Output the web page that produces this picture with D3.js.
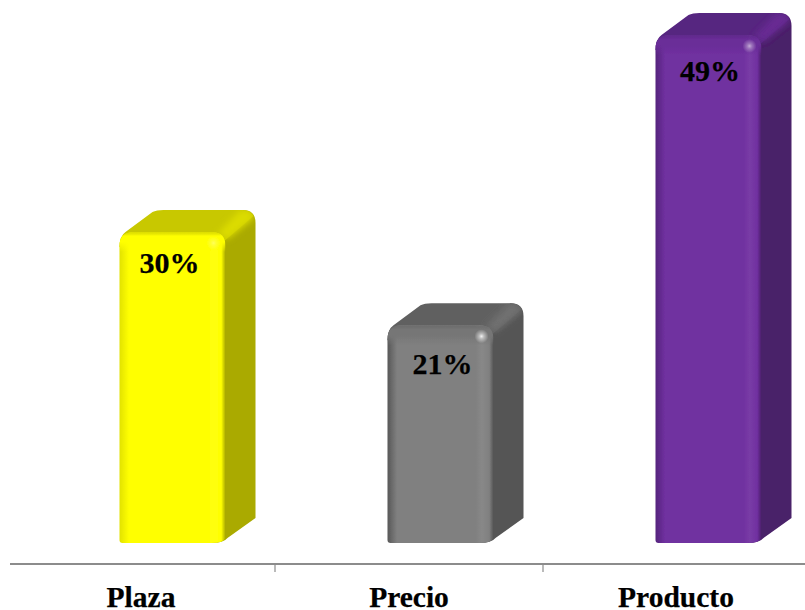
<!DOCTYPE html>
<html>
<head>
<meta charset="utf-8">
<script src="https://cdn.jsdelivr.net/npm/d3@7/dist/d3.min.js"></script>
<style>
html,body{margin:0;padding:0;background:#fff;overflow:hidden}
svg{display:block}
text{font-family:"Liberation Serif","Times New Roman",serif;font-weight:bold;fill:#000;stroke:#000;stroke-width:0.25px}
</style>
</head>
<body>
<svg id="chart" width="805" height="610"></svg>
<script>
const categories = ["Plaza", "Precio", "Producto"];
const shares = [30, 21, 49];
const frontColors = ["#ffff00", "#808080", "#7030a0"];
const topColors = ["#c8c800", "#616161", "#572580"];
const sideColors = ["#aaaa00", "#555555", "#4a2069"];
const ridgeColors = ["#dcdc00", "#707070", "#672c93"];
const leftEdgeColors = ["#e2e200", "#585858", "#55257d"];
const capColors = ["#ffff00", "#767676", "#6a2d98"];
const glintStrengths = [0.35, 0.9, 0.6];
const labelNudgeX = [1, 6, 5.5];
const labelNudgeY = [0, 8, 5];
const axisLabelNudgeX = [0, 0, -1];

const svg = d3.select("#chart");
const x = d3.scaleBand().domain(categories).range([7, 811]);
const y = d3.scaleLinear().domain([0, 49]).range([543, 35]);

const barInset = 112.5;
const barW = 106;
const depthX = 30;
const depthY = 22;
const r = 14;

const defs = svg.append("defs");
categories.forEach((c, i) => {
  const mid = frontColors[i];
  const h = defs.append("linearGradient").attr("id", "front" + i);
  [[0, leftEdgeColors[i]], [0.09, mid], [0.83, mid],
   [0.89, d3.interpolateRgb(mid, "#fff")(0.06)], [0.96, mid], [1, sideColors[i]]]
    .forEach(s => h.append("stop").attr("offset", s[0]).attr("stop-color", s[1]));

  const v = defs.append("linearGradient").attr("id", "cap" + i)
    .attr("x1", 0).attr("x2", 0).attr("y1", 0).attr("y2", 1);
  [[0, topColors[i], 0.6], [0.2, capColors[i], 1], [0.5, capColors[i], 1], [1, capColors[i], 0]]
    .forEach(s => v.append("stop").attr("offset", s[0]).attr("stop-color", s[1]).attr("stop-opacity", s[2]));

  const g = defs.append("radialGradient").attr("id", "glint" + i);
  g.append("stop").attr("offset", 0).attr("stop-color", "#fff").attr("stop-opacity", glintStrengths[i]);
  g.append("stop").attr("offset", 0.35).attr("stop-color", "#fff").attr("stop-opacity", glintStrengths[i] * 0.55);
  g.append("stop").attr("offset", 1).attr("stop-color", "#fff").attr("stop-opacity", 0);
});

const addBlur = (id, dev) => defs.append("filter").attr("id", id)
  .attr("x", "-30%").attr("y", "-30%").attr("width", "160%").attr("height", "160%")
  .append("feGaussianBlur").attr("stdDeviation", dev);
addBlur("soft", 0.5);
addBlur("wide", 3);

const bars = svg.selectAll("g.bar").data(categories).join("g").attr("class", "bar");

bars.each(function (c, i) {
  const g = d3.select(this).attr("filter", "url(#soft)");
  const x0 = x(c) + barInset;
  const x1 = x0 + barW;
  const t = y(shares[i]);
  const b = y(0);
  const backTop = t - depthY;
  const backRight = x1 + depthX;

  // Right-hand side face, running back from the front edge
  const side = d3.path();
  side.moveTo(x1 - 14, t);
  side.lineTo(backRight - 13, backTop);
  side.quadraticCurveTo(backRight, backTop, backRight, backTop + 13);
  side.lineTo(backRight, b - 25);
  side.lineTo(x1 + 2, b - 5);
  side.quadraticCurveTo(x1 - 2, b, x1 - 14, b);
  side.closePath();
  g.append("path").attr("d", side.toString()).attr("fill", sideColors[i]);

  // Top face
  const top = d3.path();
  top.moveTo(x0, t + 15);
  top.quadraticCurveTo(x0, t + 4, x0 + 6, t);
  top.lineTo(x0 + 33, backTop + 2);
  top.quadraticCurveTo(x0 + 37, backTop, x0 + 44, backTop);
  top.lineTo(backRight - 13, backTop);
  top.quadraticCurveTo(backRight - 5, backTop, backRight - 2, backTop + 6);
  top.lineTo(x1, t + 8);
  top.lineTo(x0, t + 15);
  top.closePath();
  g.append("path").attr("d", top.toString()).attr("fill", topColors[i]);

  // Silhouette of the receding faces, used to keep the bevel inside them
  const shell = d3.path();
  shell.moveTo(x0, t + 15);
  shell.lineTo(x0 + 33, backTop);
  shell.lineTo(backRight - 13, backTop);
  shell.quadraticCurveTo(backRight, backTop, backRight, backTop + 13);
  shell.lineTo(backRight, t + 30);
  shell.lineTo(x0, t + 30);
  shell.closePath();
  defs.append("clipPath").attr("id", "shell" + i).append("path").attr("d", shell.toString());

  // Lighter, soft-edged bevel where the top and side faces meet
  const ridge = d3.path();
  ridge.moveTo(x1 - 8, t + 2);
  ridge.lineTo(backRight - 16, backTop + 1);
  ridge.lineTo(backRight - 8, backTop);
  ridge.lineTo(backRight - 1, backTop + 6);
  ridge.lineTo(backRight - 4, backTop + 10);
  ridge.lineTo(x1 + 2, t + 7);
  ridge.closePath();
  g.append("g").attr("clip-path", `url(#shell${i})`)
    .append("path").attr("d", ridge.toString())
    .attr("fill", ridgeColors[i]).attr("filter", "url(#wide)");

  // Front face with rounded corners
  const front = d3.path();
  front.moveTo(x0 + 3, b);
  front.quadraticCurveTo(x0, b, x0, b - 3);
  front.lineTo(x0, t + r);
  front.quadraticCurveTo(x0, t, x0 + r, t);
  front.lineTo(x1 - r, t);
  front.quadraticCurveTo(x1, t, x1, t + r);
  front.lineTo(x1, b - 5);
  front.quadraticCurveTo(x1 - 2, b, x1 - 14, b);
  front.closePath();
  const d = front.toString();
  g.append("path").attr("d", d).attr("fill", `url(#front${i})`);

  // Soft cap along the upper edge of the front face
  const clipId = "clip" + i;
  defs.append("clipPath").attr("id", clipId).append("path").attr("d", d);
  g.append("rect")
    .attr("x", x0).attr("y", t).attr("width", barW).attr("height", 20)
    .attr("fill", `url(#cap${i})`).attr("clip-path", `url(#${clipId})`);

  // Specular glint at the front top-right corner
  g.append("circle")
    .attr("cx", x1 - 12).attr("cy", t + 11).attr("r", 7)
    .attr("fill", `url(#glint${i})`);
});

// Value labels sit inside each bar, below its top edge
svg.selectAll("text.value").data(categories).join("text")
  .attr("class", "value")
  .attr("x", (c, i) => x(c) + barInset + 49 + labelNudgeX[i])
  .attr("y", (c, i) => y(shares[i]) + 41 + labelNudgeY[i])
  .attr("text-anchor", "middle")
  .attr("font-size", 30)
  .text((c, i) => shares[i] + "%");

// Category axis
const axis = svg.append("g").attr("transform", "translate(0,564)")
  .call(d3.axisBottom(x).tickSize(0).tickPadding(0));
axis.select(".domain").remove();
axis.selectAll("text")
  .attr("y", 43)
  .attr("dy", 0)
  .attr("dx", (c, i) => axisLabelNudgeX[i])
  .attr("font-size", 29.5)
  .style("font-family", '"Liberation Serif",serif')
  .style("font-weight", "bold")
  .attr("fill", "#000");

const axisStart = 10;
axis.append("line")
  .attr("x1", axisStart).attr("x2", 805).attr("y1", 0).attr("y2", 0)
  .attr("stroke", "#8c8c8c").attr("stroke-width", 2);
axis.selectAll("line.sep").data(categories.slice(1)).join("line")
  .attr("class", "sep")
  .attr("x1", c => x(c)).attr("x2", c => x(c))
  .attr("y1", 0).attr("y2", 8)
  .attr("stroke", "#8c8c8c").attr("stroke-width", 1.2);
</script>
</body>
</html>
